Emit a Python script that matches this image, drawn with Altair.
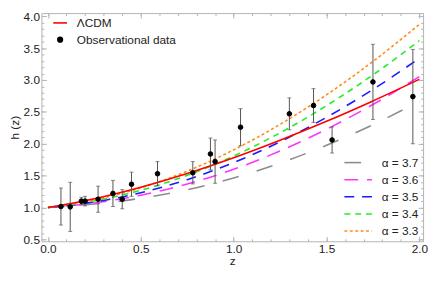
import altair as alt
import pandas as pd

# ---------------- data ----------------
z_grid = [0.0, 0.25, 0.5, 0.75, 1.0, 1.25, 1.5, 1.75, 2.0]
h_lcdm = [1.0, 1.138, 1.318, 1.533, 1.780, 2.055, 2.352, 2.672, 3.011]
h_a33 = [1.0, 1.119, 1.308, 1.570, 1.904, 2.304, 2.768, 3.291, 3.873]
h_a34 = [1.0, 1.103, 1.270, 1.505, 1.807, 2.172, 2.598, 3.080, 3.617]
h_a35 = [1.0, 1.088, 1.231, 1.437, 1.704, 2.032, 2.415, 2.852, 3.341]
h_a36 = [1.0, 1.072, 1.193, 1.368, 1.600, 1.887, 2.227, 2.616, 3.053]
h_a37 = [1.0, 1.054, 1.145, 1.280, 1.464, 1.697, 1.976, 2.299, 2.665]

alpha_labels = ["α = 3.7", "α = 3.6", "α = 3.5", "α = 3.4", "α = 3.3"]
alpha_colors = ["#8c8c8c", "#ff33ff", "#1a1aff", "#22ee22", "#ff8c1a"]
alpha_dashes = [[17, 19], [14, 9], [10, 8], [6, 5], [3, 2.5]]

obs_z = [0.07, 0.12, 0.18, 0.20, 0.27, 0.35, 0.40, 0.45, 0.59, 0.78, 0.875,
         0.90, 1.037, 1.30, 1.43, 1.53, 1.75, 1.965]
obs_h = [1.015, 1.01, 1.10, 1.10, 1.13, 1.22, 1.13, 1.365, 1.53, 1.545, 1.84,
         1.72, 2.26, 2.47, 2.60, 2.06, 2.97, 2.74]
obs_err = [0.29, 0.385, 0.06, 0.075, 0.205, 0.205, 0.15, 0.19, 0.19, 0.175,
           0.25, 0.34, 0.29, 0.25, 0.265, 0.205, 0.59, 0.74]

kind_labels = ["ΛCDM", "Observational data"]

x_major = [0.0, 0.5, 1.0, 1.5, 2.0]
y_major = [0.5, 1.0, 1.5, 2.0, 2.5, 3.0, 3.5, 4.0]
x_minor = [round(i * 0.1, 2) for i in range(0, 21)]
y_minor = [round(0.5 + i * 0.1, 2) for i in range(0, 36)]

# ---------------- tables ----------------
alpha_series = [h_a37, h_a36, h_a35, h_a34, h_a33]
rows = []
for lab, hs in zip(alpha_labels, alpha_series):
    for z, h in zip(z_grid, hs):
        rows.append({"z": z, "h": h, "model": lab})
df_alpha = pd.DataFrame(rows)
df_lcdm = pd.DataFrame({"z": z_grid, "h": h_lcdm})
df_obs = pd.DataFrame({
    "z": obs_z, "h": obs_h,
    "lo": [h - e for h, e in zip(obs_h, obs_err)],
    "hi": [h + e for h, e in zip(obs_h, obs_err)],
    "kind": ["Observational data"] * len(obs_z),
})

FONT = "Liberation Sans"
FRAME = "#b4b4b4"
LABEL = "#222222"

xs = alt.Scale(domain=[-0.035, 2.02], nice=False, zero=False)
ys = alt.Scale(domain=[0.47, 4.05], nice=False, zero=False)


def axis(orient, values, major, labels=False, title=""):
    L = 5 if major else 2.5
    kw = dict(orient=orient, values=values, grid=False, domain=False,
              ticks=True, tickSize=L, offset=-L, tickColor=FRAME, tickWidth=1,
              labels=labels, title=title)
    if labels:
        kw.update(format=".1f", labelFont=FONT, labelFontSize=12,
                  labelColor=LABEL, labelPadding=2, labelFlush=False,
                  titleFont=FONT, titleFontSize=12, titleColor=LABEL,
                  titleFontWeight="normal", titlePadding=2)
    return alt.Axis(**kw)


alpha_legend = alt.Legend(
    title="", orient="none", legendX=314, legendY=144,
    symbolType="M-2,0H2", symbolSize=196, symbolStrokeWidth=1.6,
    labelFont=FONT, labelFontSize=12, labelColor=LABEL, labelOffset=16,
    rowPadding=3.4,
)

alpha_layer = alt.Chart(df_alpha).mark_line(strokeWidth=1.6, interpolate="monotone").encode(
    x=alt.X("z:Q", scale=xs, axis=axis("bottom", x_major, True, True, "z")),
    y=alt.Y("h:Q", scale=ys, axis=axis("left", y_major, True, True, "h (z)")),
    color=alt.Color("model:N", scale=alt.Scale(domain=alpha_labels, range=alpha_colors),
                    legend=alpha_legend),
    strokeDash=alt.StrokeDash("model:N", scale=alt.Scale(domain=alpha_labels, range=alpha_dashes),
                              legend=alpha_legend),
    detail="model:N",
)

lcdm_layer = alt.Chart(df_lcdm).mark_line(strokeWidth=1.6, color="#ff0000", interpolate="monotone").encode(
    x=alt.X("z:Q", scale=xs, axis=axis("bottom", x_minor, False)),
    y=alt.Y("h:Q", scale=ys, axis=axis("left", y_minor, False)),
)

err_layer = alt.Chart(df_obs).mark_rule(strokeWidth=1, color="#555555").encode(
    x=alt.X("z:Q", scale=xs, axis=axis("top", x_major, True)),
    y=alt.Y("lo:Q", scale=ys, axis=axis("right", y_major, True)),
    y2="hi:Q",
)

cap_hi = alt.Chart(df_obs).mark_tick(orient="horizontal", size=4, thickness=1, color="#555555").encode(
    x=alt.X("z:Q", scale=xs, axis=axis("top", x_minor, False)),
    y=alt.Y("hi:Q", scale=ys, axis=axis("right", y_minor, False)),
)

cap_lo = alt.Chart(df_obs).mark_tick(orient="horizontal", size=4, thickness=1, color="#555555").encode(
    x=alt.X("z:Q", scale=xs, axis=None),
    y=alt.Y("lo:Q", scale=ys, axis=None),
)

kind_legend = alt.Legend(
    title="", orient="none", legendX=11, legendY=2,
    labelFont=FONT, labelFontSize=12, labelColor=LABEL, labelOffset=9,
    rowPadding=5, symbolStrokeWidth=1.6,
)

pts_layer = alt.Chart(df_obs).mark_point(opacity=1, strokeWidth=1).encode(
    x=alt.X("z:Q", scale=xs, axis=None),
    y=alt.Y("h:Q", scale=ys, axis=None),
    shape=alt.Shape("kind:N", scale=alt.Scale(domain=kind_labels, range=["M-1,0H1", "circle"]),
                    legend=kind_legend),
    fill=alt.Fill("kind:N", scale=alt.Scale(domain=kind_labels, range=["#ff0000", "#000000"]),
                  legend=kind_legend),
    stroke=alt.Stroke("kind:N", scale=alt.Scale(domain=kind_labels, range=["#ff0000", "#000000"]),
                      legend=kind_legend),
    size=alt.Size("kind:N", scale=alt.Scale(domain=kind_labels, range=[196, 22]),
                  legend=kind_legend),
)

chart = alt.layer(
    alpha_layer, lcdm_layer, err_layer, cap_hi, cap_lo, pts_layer
).resolve_axis(
    x="independent", y="independent"
).properties(
    width=388, height=232, padding=0, background="white"
).configure_view(
    stroke=FRAME, strokeWidth=1
)

chart.save("out.html", embed_options={"renderer": "svg", "actions": False})
